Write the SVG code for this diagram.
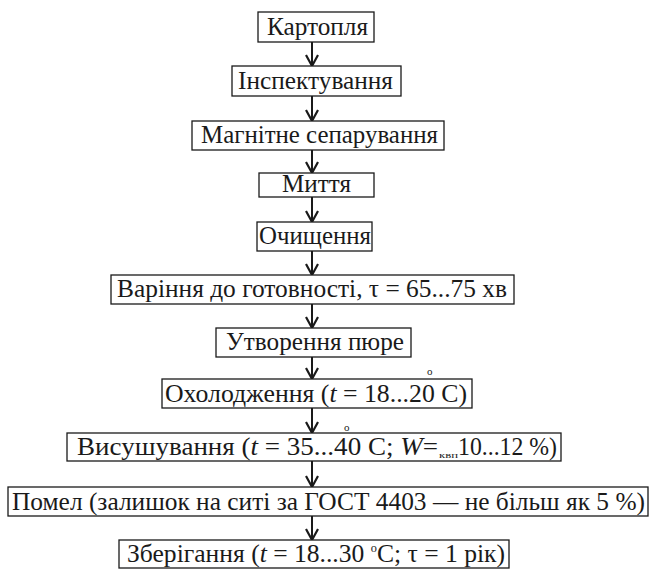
<svg xmlns="http://www.w3.org/2000/svg" width="655" height="569" viewBox="0 0 655 569">
<defs>
<style>
rect.box{fill:#fff;stroke:#1a1a1a;stroke-width:1.3}
text{font-family:"Liberation Serif","Times New Roman",serif;font-size:25px;fill:#1a1a1a}
text.sm{font-size:11px}
text.sub{font-size:9px}
.it{font-style:italic}
line.c{stroke:#1a1a1a;stroke-width:2}
</style>
<marker id="v" markerUnits="userSpaceOnUse" markerWidth="14" markerHeight="14" refX="11" refY="6" orient="auto" overflow="visible">
<path d="M0,0 L11,6 L0,12" fill="none" stroke="#1a1a1a" stroke-width="2.2"/>
</marker>
</defs>
<rect width="655" height="569" fill="#fff"/>
<g id="connectors">
<line class="c" x1="312" y1="42" x2="312" y2="66" marker-end="url(#v)"/>
<line class="c" x1="312" y1="96" x2="312" y2="121" marker-end="url(#v)"/>
<line class="c" x1="312" y1="150" x2="312" y2="173" marker-end="url(#v)"/>
<line class="c" x1="312" y1="197" x2="312" y2="222" marker-end="url(#v)"/>
<line class="c" x1="312" y1="251" x2="312" y2="275" marker-end="url(#v)"/>
<line class="c" x1="312" y1="304" x2="312" y2="328" marker-end="url(#v)"/>
<line class="c" x1="312" y1="357" x2="312" y2="379" marker-end="url(#v)"/>
<line class="c" x1="312" y1="408" x2="312" y2="433" marker-end="url(#v)"/>
<line class="c" x1="312" y1="461" x2="312" y2="487" marker-end="url(#v)"/>
<line class="c" x1="312" y1="516" x2="312" y2="540" marker-end="url(#v)"/>
</g>
<g id="n1"><rect class="box" x="258" y="12" width="116" height="30"/><text x="267" y="35" textLength="101" lengthAdjust="spacingAndGlyphs">Картопля</text></g>
<g id="n2"><rect class="box" x="232" y="66" width="169" height="30"/><text x="238" y="89" textLength="155" lengthAdjust="spacingAndGlyphs">Інспектування</text></g>
<g id="n3"><rect class="box" x="192" y="121" width="252" height="29"/><text x="201" y="143" textLength="237" lengthAdjust="spacingAndGlyphs">Магнітне сепарування</text></g>
<g id="n4"><rect class="box" x="259" y="173" width="115" height="24"/><text x="282" y="192" textLength="69" lengthAdjust="spacingAndGlyphs">Миття</text></g>
<g id="n5"><rect class="box" x="257" y="222" width="115" height="29"/><text x="259" y="244" textLength="112" lengthAdjust="spacingAndGlyphs">Очищення</text></g>
<g id="n6"><rect class="box" x="111" y="275" width="403" height="29"/><text x="117" y="297" textLength="390" lengthAdjust="spacingAndGlyphs">Варіння до готовності, τ = 65...75 хв</text></g>
<g id="n7"><rect class="box" x="216" y="328" width="195" height="29"/><text x="226" y="350" textLength="178" lengthAdjust="spacingAndGlyphs">Утворення пюре</text></g>
<g id="n8"><rect class="box" x="162" y="379" width="310" height="29"/><text x="165" y="402" textLength="302" lengthAdjust="spacingAndGlyphs">Охолодження (<tspan class="it">t</tspan> = 18...20 C)</text><text class="sm" x="427" y="375">o</text></g>
<g id="n9"><rect class="box" x="67" y="433" width="494" height="28"/><text x="77" y="455" textLength="361" lengthAdjust="spacingAndGlyphs">Висушування (<tspan class="it">t</tspan> = 35...40 C; <tspan class="it">W</tspan>=</text><text class="sub" x="439" y="458" textLength="19" lengthAdjust="spacingAndGlyphs">квп</text><text x="458" y="455" textLength="99" lengthAdjust="spacingAndGlyphs">10...12 %)</text><text class="sm" x="344" y="431">o</text></g>
<g id="n10"><rect class="box" x="8" y="487" width="640" height="29"/><text x="12" y="510" textLength="633" lengthAdjust="spacingAndGlyphs">Помел (залишок на ситі за ГОСТ 4403 — не більш як 5 %)</text></g>
<g id="n11"><rect class="box" x="119" y="540" width="390" height="28"/><text x="127" y="562" textLength="378" lengthAdjust="spacingAndGlyphs">Зберігання (<tspan class="it">t</tspan> = 18...30 <tspan font-size="12" baseline-shift="10">o</tspan>C; τ = 1 рік)</text></g>
</svg>
